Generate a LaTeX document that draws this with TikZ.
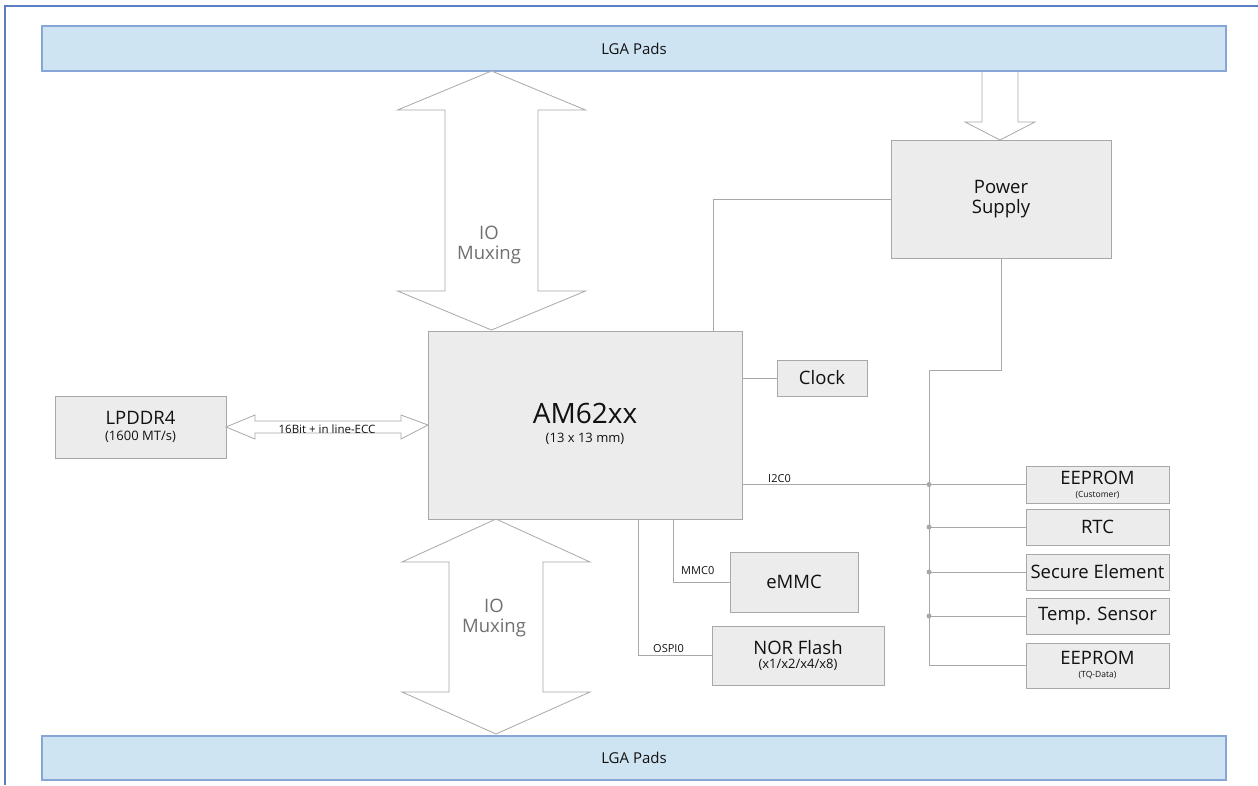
\documentclass[tikz,border=0pt]{standalone}
\usepackage{fontspec}
\setmainfont{Open Sans}
\begin{document}
\begin{tikzpicture}[x=1pt,y=-1pt,
  fs/.style={font=\fontsize{#1}{#1}\selectfont},
  box/.style={draw=boxline, fill=boxfill, line width=0.9pt, inner sep=0pt, outer sep=0pt, align=center, text=txt, rectangle},
  bar/.style={draw=barline, fill=barfill, line width=1.1pt, inner sep=0pt, outer sep=0pt, text=txt, rectangle},
  wire/.style={draw=wirec, line width=0.8pt},
  bigarrow/.style={draw=arrowc, line width=0.8pt, fill=white, line join=miter},
  dot/.style={circle, fill=wirec, inner sep=0pt, minimum size=5pt},
  lbl/.style={text=txt, inner sep=0pt, font=\fontsize{11}{11}\selectfont}
]
\definecolor{boxline}{HTML}{A8A8A8}
\definecolor{boxfill}{HTML}{ECECEC}
\definecolor{barline}{HTML}{85A6D6}
\definecolor{barfill}{HTML}{CFE4F3}
\definecolor{frame}{HTML}{5B7EC0}
\definecolor{wirec}{HTML}{A8A8A8}
\definecolor{arrowc}{HTML}{A8A8A8}
\definecolor{txt}{HTML}{111111}
\definecolor{muxtxt}{HTML}{707070}

\useasboundingbox (0,0) rectangle (1258,785);
% outer frame
\draw[frame, line width=1.3pt] (5,785) -- (5,6) -- (1258,6);

% LGA bars
\node[bar, minimum width=1184pt, minimum height=45pt, fs=15] (topbar) at (634,48.5) {LGA Pads};
\node[bar, minimum width=1184pt, minimum height=44pt, fs=15] (botbar) at (634,758) {LGA Pads};

% IO Muxing arrows
\draw[bigarrow] (491.5,71) -- (585.5,110) -- (538,110) -- (538,291) -- (585.5,291) -- (491.5,330)
  -- (397.5,291) -- (445,291) -- (445,110) -- (397.5,110) -- cycle;
\node[text=muxtxt, fs=18.5, align=center, inner sep=0pt] (mux1) at (489,245) {IO\\[1.5pt]Muxing};
\draw[bigarrow] (496,519) -- (590,562) -- (543,562) -- (543,692) -- (590,692) -- (496,734)
  -- (402,692) -- (449,692) -- (449,562) -- (402,562) -- cycle;
\node[text=muxtxt, fs=18.5, align=center, inner sep=0pt] (mux2) at (494,618.5) {IO\\[1.5pt]Muxing};

% Power arrow
\draw[bigarrow, fill=none] (982,71) -- (982,122) -- (965,122) -- (1000,140) -- (1035,122) -- (1018,122) -- (1018,71);

% boxes
\node[box, minimum width=220pt, minimum height=118pt, fs=18.5] (power) at (1001,199) {Power\\[1.5pt]Supply};
\node[box, minimum width=314pt, minimum height=188pt] (am) at (585,425) {};
\node[text=txt, fs=28, inner sep=0pt] (amt) at (585,413) {AM62xx};
\node[text=txt, fs=13, inner sep=0pt] (ams) at (585,439) {(13 x 13 mm)};
\node[box, minimum width=90pt, minimum height=36pt, fs=18.5] (clock) at (822,378) {Clock};
\node[box, minimum width=171pt, minimum height=62pt, fs=18.5] (lpddr) at (140.5,427) {LPDDR4\\[-2pt]{\fontsize{13}{13}\selectfont(1600 MT/s)}};
\node[box, minimum width=143pt, minimum height=37pt, fs=18.5] (e1) at (1097.5,484.5) {EEPROM\\[-5.5pt]{\fontsize{8.5}{8.5}\selectfont(Customer)}};
\node[box, minimum width=143pt, minimum height=36pt, fs=18.5] (rtc) at (1097.5,527) {RTC};
\node[box, minimum width=143pt, minimum height=36pt, fs=18.5] (sec) at (1097.5,572) {Secure Element};
\node[box, minimum width=143pt, minimum height=36pt, fs=18.5] (temp) at (1097.5,616) {Temp. Sensor};
\node[box, minimum width=143pt, minimum height=45pt, fs=18.5] (e2) at (1097.5,665.5) {EEPROM\\[-5.5pt]{\fontsize{8.5}{8.5}\selectfont(TQ-Data)}};
\node[box, minimum width=128pt, minimum height=60pt, fs=18.5] (emmc) at (794,582) {eMMC};
\node[box, minimum width=172pt, minimum height=59pt, fs=18.5] (nor) at (798,655.5) {NOR Flash\\[-4.5pt]{\fontsize{13}{13}\selectfont(x1/x2/x4/x8)}};

% LPDDR double arrow
\draw[bigarrow] (lpddr.east) -- (255,415) -- (255,421) -- (401,421) -- (401,415) -- (am.west)
  -- (401,439) -- (401,433) -- (255,433) -- (255,439) -- cycle;
\node[lbl, font=\fontsize{11.5}{11.5}\selectfont] (ddrl) at (327,429) {16Bit + in line-ECC};

% wires
\coordinate (bt) at (929,370);
\draw[wire] ([xshift=128pt]am.north) |- (power.west);
\draw[wire] (am.east |- clock.west) -- (clock.west);
\draw[wire] (am.east |- e1.west) -- (e1.west);
\node[lbl, anchor=base west] (i2c) at (768,482) {I2C0};
\draw[wire] (power.south) |- (bt) |- (e2.west);
\draw[wire] (rtc.west -| bt) -- (rtc.west);
\draw[wire] (sec.west -| bt) -- (sec.west);
\draw[wire] (temp.west -| bt) -- (temp.west);
\node[dot] at (e1.west -| bt) {};
\node[dot] at (rtc.west -| bt) {};
\node[dot] at (sec.west -| bt) {};
\node[dot] at (temp.west -| bt) {};
\draw[wire] ([xshift=88pt]am.south) |- (emmc.west);
\node[lbl, anchor=base west] (mmcl) at (681,574) {MMC0};
\draw[wire] ([xshift=53pt]am.south) |- (nor.west);
\node[lbl, anchor=base west] (ospil) at (653,652) {OSPI0};
\end{tikzpicture}
\end{document}
